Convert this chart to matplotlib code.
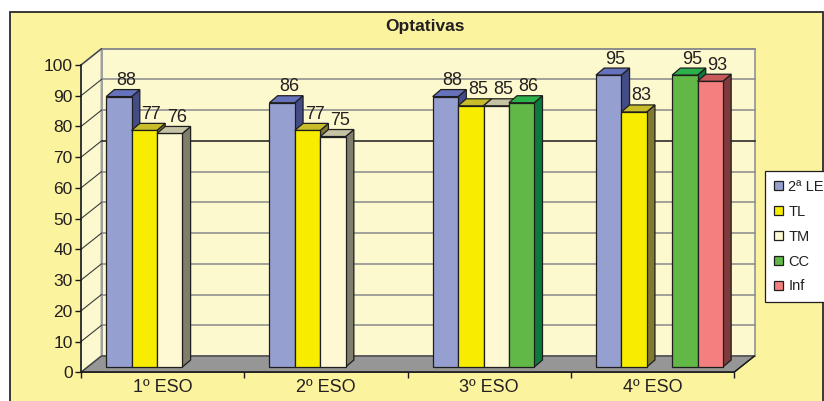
import matplotlib
matplotlib.use("Agg")
from matplotlib import pyplot as plt
from matplotlib.patches import Polygon, Rectangle, Patch

plt.rcParams['font.family'] = ['Liberation Sans', 'DejaVu Sans']

categories = ['1º ESO', '2º ESO', '3º ESO', '4º ESO']
series_names = ['2ª LE', 'TL', 'TM', 'CC', 'Inf']
le2 = [88, 86, 88, 95]
tl = [77, 77, 85, 83]
tm = [76, 75, 85, None]
cc = [None, None, 86, 95]
inf = [None, None, None, 93]
series_values = [le2, tl, tm, cc, inf]
y_ticks = list(range(0, 101, 10))

# front, top, side colours for each series
front_colors = ['#959fd0', '#f8ec00', '#fef9d2', '#62b847', '#f47f7f']
top_colors = ['#6672bb', '#c8bc2a', '#c6c2a4', '#2bb04a', '#c85a5a']
side_colors = ['#444c88', '#807a30', '#7f7e6a', '#0b7a3a', '#7e3b3b']

W, H = 824, 401
bg = '#fbf39e'
wall = '#fdf9cf'
text_col = '#231f20'

fig = plt.figure(figsize=(W / 100, H / 100), dpi=100)
fig.patch.set_facecolor('white')
fig.patches.append(Rectangle((10 / W, -0.05), (823 - 10) / W, 1 - 12 / H + 0.05,
                             transform=fig.transFigure, facecolor=bg,
                             edgecolor='#2a2a2a', lw=1.3, zorder=-5))

x0px, x1px = 81, 734
y0px, y100px = 372.3, 65
ax = fig.add_axes([x0px / W, (H - y0px) / H, (x1px - x0px) / W, (y0px - y100px) / H])
ax.set_xlim(0, 4)
ax.set_ylim(0, 100)
ax.patch.set_visible(False)

px_x = 4 / (x1px - x0px)      # category units per pixel
px_y = 100 / (y0px - y100px)  # value units per pixel

# depth of the 3D box
dx = 20.5 * px_x
dy = 16.3 * px_y

# walls and floor
ax.add_patch(Polygon([(dx, dy), (4 + dx, dy), (4 + dx, 100 + dy), (dx, 100 + dy)],
                     closed=True, facecolor=wall, edgecolor='#a0a0a0', lw=1.4,
                     zorder=0.5, clip_on=False))
ax.add_patch(Polygon([(0, 0), (dx, dy), (dx, 100 + dy), (0, 100)],
                     closed=True, facecolor=wall, edgecolor='#a0a0a0', lw=1.4,
                     zorder=0.5, clip_on=False))
ax.add_patch(Polygon([(0, 0), (4, 0), (4 + dx, dy), (dx, dy)],
                     closed=True, facecolor='#969696', edgecolor='#3a3a3a', lw=0.9,
                     zorder=0.6, clip_on=False))

for v in y_ticks[1:]:
    col = '#1a1a1a' if v == 70 else '#8a8a8a'
    ax.plot([dx, 4 + dx], [v + dy, v + dy], color=col, lw=1.1, zorder=0.7, clip_on=False)
    ax.plot([0, dx], [v, v + dy], color='#3a3a3a', lw=0.8, zorder=0.7, clip_on=False)

# bars
w = 25.4 * px_x
off = 25.2 * px_x
base = 5.3 * px_y
ddx = 8.2 * px_x
ddy = 7.0 * px_y
z = 2
for i in range(len(categories)):
    for k, vals in enumerate(series_values):
        v = vals[i]
        if v is None:
            continue
        xl = i + off + k * w
        xr = xl + w
        top = base + v
        ax.add_patch(Polygon([(xr, base), (xr + ddx, base + ddy), (xr + ddx, top + ddy), (xr, top)],
                             closed=True, facecolor=side_colors[k], edgecolor='#1e1e1e',
                             lw=0.9, zorder=z, clip_on=False))
        ax.add_patch(Polygon([(xl, base), (xr, base), (xr, top), (xl, top)],
                             closed=True, facecolor=front_colors[k], edgecolor='#1e1e1e',
                             lw=0.9, zorder=z, clip_on=False))
        ax.add_patch(Polygon([(xl, top), (xr, top), (xr + ddx, top + ddy), (xl + ddx, top + ddy)],
                             closed=True, facecolor=top_colors[k], edgecolor='#1e1e1e',
                             lw=0.9, zorder=z, clip_on=False))
        ax.text(xl + w / 2 + 7 * px_x, top + ddy + 9 * px_y, str(v), ha='center', va='center',
                fontsize=13, color=text_col, zorder=10)
        z += 0.1

# axes lines and ticks
for s in ['top', 'right']:
    ax.spines[s].set_visible(False)
for s in ['left', 'bottom']:
    ax.spines[s].set_color('#1a1a1a')
    ax.spines[s].set_linewidth(1.1)
    ax.spines[s].set_zorder(1)
ax.plot([4, 4 + dx], [0, dy], color='#1a1a1a', lw=1.0, zorder=1, clip_on=False)

ax.set_yticks(y_ticks)
ax.set_yticklabels([str(v) for v in y_ticks])
ax.tick_params(axis='y', direction='out', length=4, width=1, color='#1a1a1a',
               labelsize=12.5, labelcolor=text_col, pad=2)
ax.set_xticks(range(len(categories) + 1))
ax.set_xticklabels([''] * (len(categories) + 1))
ax.tick_params(axis='x', which='major', direction='out', length=4, width=1, color='#1a1a1a')
ax.set_xticks([i + 0.5 for i in range(len(categories))], minor=True)
ax.set_xticklabels(categories, minor=True)
ax.tick_params(axis='x', which='minor', length=0, labelsize=13, labelcolor=text_col, pad=5)

fig.text(425 / W, 1 - 27 / H, 'Optativas', ha='center', va='center',
         fontsize=12.5, fontweight='bold', color=text_col)

handles = [Patch(facecolor=front_colors[k], edgecolor='#1e1e1e', lw=0.9, label=name)
           for k, name in enumerate(series_names)]
leg = fig.legend(handles=handles, loc='upper left', bbox_to_anchor=(765 / W, 1 - 171 / H),
                 frameon=True, fancybox=False, fontsize=10.5, handlelength=0.6,
                 handleheight=0.6, handletextpad=0.4, labelspacing=0.75,
                 borderpad=0.6, borderaxespad=0, framealpha=1, facecolor='white')
leg.get_frame().set_edgecolor('#1e1e1e')
leg.get_frame().set_linewidth(0.9)
for t in leg.get_texts():
    t.set_color(text_col)

fig.savefig('out.png', dpi=100)
